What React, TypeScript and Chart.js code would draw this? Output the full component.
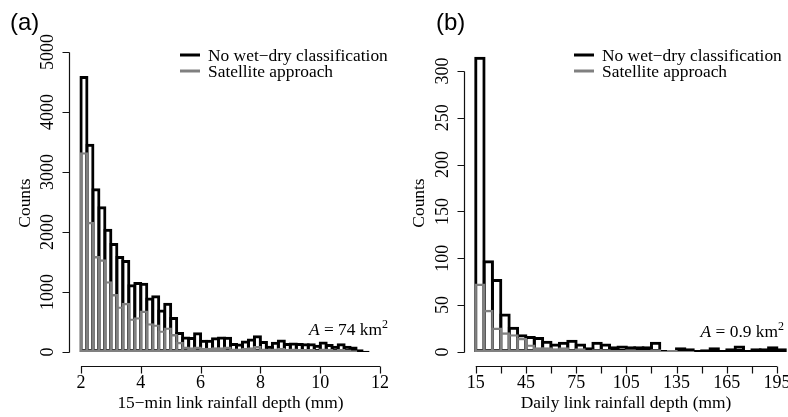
import React, { useEffect, useRef } from "react";
import { Chart, registerables } from "chart.js";
Chart.register(...registerables);

// ---------- data ----------
const leftBinCenters = [2.1, 2.3, 2.5, 2.7, 2.9, 3.1, 3.3, 3.5, 3.7, 3.9, 4.1, 4.3, 4.5, 4.7, 4.9, 5.1, 5.3, 5.5, 5.7, 5.9, 6.1, 6.3, 6.5, 6.7, 6.9, 7.1, 7.3, 7.5, 7.7, 7.9, 8.1, 8.3, 8.5, 8.7, 8.9, 9.1, 9.3, 9.5, 9.7, 9.9, 10.1, 10.3, 10.5, 10.7, 10.9, 11.1, 11.3, 11.5];
const leftNoWetDry = [4600, 3470, 2730, 2430, 2055, 1815, 1600, 1535, 1130, 1165, 1155, 910, 945, 710, 820, 585, 335, 258, 250, 330, 205, 205, 245, 258, 255, 150, 140, 190, 225, 278, 185, 105, 170, 208, 150, 160, 150, 145, 145, 120, 175, 135, 105, 145, 105, 90, 45, 20];
const leftSatellite = [3330, 2170, 1600, 1545, 1180, 967, 760, 820, 560, 580, 690, 480, 460, 360, 410, 300, 170, 90, 80, 90, 70, 70, 80, 80, 90, 60, 60, 70, 80, 100, 60, 50, 60, 70, 50, 60, 50, 50, 50, 40, 60, 50, 40, 50, 40, 30];
const leftXTicks = [2, 4, 6, 8, 10, 12];
const leftXLabels = [2, 4, 6, 8, 10, 12];
const leftYTicks = [0, 1000, 2000, 3000, 4000, 5000];

const rightBinCenters = [17.5, 22.5, 27.5, 32.5, 37.5, 42.5, 47.5, 52.5, 57.5, 62.5, 67.5, 72.5, 77.5, 82.5, 87.5, 92.5, 97.5, 102.5, 107.5, 112.5, 117.5, 122.5, 127.5, 132.5, 137.5, 142.5, 147.5, 152.5, 157.5, 162.5, 167.5, 172.5, 177.5, 182.5, 187.5, 192.5, 197.5];
const rightNoWetDry = [315, 98, 78, 41, 27, 19, 17, 16, 12, 9, 11, 13, 9, 5, 11, 9, 6, 7, 6, 6, 6, 11, 2, 2, 5, 4, 2, 3, 5, 2, 4, 7, 2, 4, 4, 6, 4];
const rightSatellite = [73, 45, 26, 21, 19, 15, 8, 5, 5, 4, 5, 3, 4, 2, 3, 3, 2, 2, 3, 2, 2, 3, 1, 2, 1, 1];
const rightXTicks = [15, 30, 45, 60, 75, 90, 105, 120, 135, 150, 165, 180, 195];
const rightXLabels = [15, 45, 75, 105, 135, 165, 195];
const rightYTicks = [0, 50, 100, 150, 200, 250, 300];

const legendLabels = ["No wet\u2212dry classification", "Satellite approach"];

// ---------- styling ----------
const SERIF = '"Liberation Serif", "Times New Roman", Times, serif';
const SANS = '"Liberation Sans", Arial, Helvetica, sans-serif';
const BLACK = "#000000";
const GREY = "#808080";
const W = 394;
const H = 417;

type PanelCfg = {
  tag: string;
  tagX: number;
  centers: number[];
  all: number[];
  sat: number[];
  binWidth: number;
  xMin: number;
  xMax: number;
  yMin: number;
  yMax: number;
  pad: { left: number; right: number; top: number; bottom: number };
  xTicks: number[];
  xLabels: number[];
  yTicks: number[];
  xTitle: string;
  areaValue: string;
  areaRight: number;
  areaBaseline: number;
};

const panels: PanelCfg[] = [
  {
    tag: "(a)",
    tagX: 10,
    centers: leftBinCenters,
    all: leftNoWetDry,
    sat: leftSatellite,
    binWidth: 0.2,
    xMin: 1.6,
    xMax: 12.4,
    yMin: -233,
    yMax: 5200,
    pad: { left: 69, right: 2, top: 40, bottom: 51 },
    xTicks: leftXTicks,
    xLabels: leftXLabels,
    yTicks: leftYTicks,
    xTitle: "15\u2212min link rainfall depth (mm)",
    areaValue: "74",
    areaRight: 388,
    areaBaseline: 335,
  },
  {
    tag: "(b)",
    tagX: 42,
    centers: rightBinCenters,
    all: rightNoWetDry,
    sat: rightSatellite,
    binWidth: 5,
    xMin: 8,
    xMax: 201.6,
    yMin: -15,
    yMax: 333,
    pad: { left: 70, right: 0, top: 40, bottom: 51 },
    xTicks: rightXTicks,
    xLabels: rightXLabels,
    yTicks: rightYTicks,
    xTitle: "Daily link rainfall depth (mm)",
    areaValue: "0.9",
    areaRight: 390,
    areaBaseline: 337,
  },
];

function overlayPlugin(p: PanelCfg) {
  return {
    id: "rOverlay",
    afterDraw(chart: any) {
      const ctx: CanvasRenderingContext2D = chart.ctx;
      const xs = chart.scales.x;
      const ys = chart.scales.y;
      const area = chart.chartArea;
      ctx.save();
      ctx.strokeStyle = "#111111";
      ctx.fillStyle = BLACK;
      ctx.lineWidth = 1.2;

      // y axis
      const ax = Math.round(area.left) + 0.5;
      const yA = Math.round(ys.getPixelForValue(p.yTicks[0])) + 0.5;
      const yB = Math.round(ys.getPixelForValue(p.yTicks[p.yTicks.length - 1])) + 0.5;
      ctx.beginPath();
      ctx.moveTo(ax, yA);
      ctx.lineTo(ax, yB);
      p.yTicks.forEach((v) => {
        const y = Math.round(ys.getPixelForValue(v)) + 0.5;
        ctx.moveTo(ax - 7, y);
        ctx.lineTo(ax, y);
      });
      ctx.stroke();
      ctx.font = `18px ${SERIF}`;
      ctx.textAlign = "center";
      ctx.textBaseline = "alphabetic";
      p.yTicks.forEach((v) => {
        const y = ys.getPixelForValue(v);
        ctx.save();
        ctx.translate(area.left - 16, y);
        ctx.rotate(-Math.PI / 2);
        ctx.fillText(String(v), 0, 0);
        ctx.restore();
      });

      // x axis
      const ay = Math.round(area.bottom) + 0.5;
      const xA = xs.getPixelForValue(p.xTicks[0]);
      const xB = xs.getPixelForValue(p.xTicks[p.xTicks.length - 1]);
      ctx.beginPath();
      ctx.moveTo(xA, ay);
      ctx.lineTo(xB, ay);
      p.xTicks.forEach((v) => {
        const x = Math.round(xs.getPixelForValue(v)) + 0.5;
        ctx.moveTo(x, ay);
        ctx.lineTo(x, ay + 7);
      });
      ctx.stroke();
      p.xLabels.forEach((v) => {
        ctx.fillText(String(v), xs.getPixelForValue(v), ay + 21);
      });

      // axis titles
      ctx.font = `17.4px ${SERIF}`;
      ctx.fillText(p.xTitle, (area.left + area.right) / 2, 408);
      ctx.save();
      ctx.translate(30, (area.top + area.bottom) / 2);
      ctx.rotate(-Math.PI / 2);
      ctx.fillText("Counts", 0, 0);
      ctx.restore();

      // legend
      const colors = [BLACK, GREY];
      ctx.textAlign = "left";
      legendLabels.forEach((lab, i) => {
        const ly = 55 + i * 16;
        ctx.strokeStyle = colors[i];
        ctx.lineWidth = 3;
        ctx.beginPath();
        ctx.moveTo(180, ly);
        ctx.lineTo(200, ly);
        ctx.stroke();
        ctx.fillStyle = BLACK;
        ctx.fillText(lab, 208, ly + 6);
      });

      // area annotation: A = value km^2
      const fItal = `italic 17.4px ${SERIF}`;
      const fNorm = `17.4px ${SERIF}`;
      const fSup = `12px ${SERIF}`;
      const rest = " = " + p.areaValue + " km";
      ctx.font = fItal;
      const wA = ctx.measureText("A").width;
      ctx.font = fNorm;
      const wR = ctx.measureText(rest).width;
      ctx.font = fSup;
      const wS = ctx.measureText("2").width;
      let x0 = p.areaRight - (wA + wR + wS);
      ctx.font = fItal;
      ctx.fillText("A", x0, p.areaBaseline);
      x0 += wA;
      ctx.font = fNorm;
      ctx.fillText(rest, x0, p.areaBaseline);
      x0 += wR;
      ctx.font = fSup;
      ctx.fillText("2", x0, p.areaBaseline - 7);

      // panel tag
      ctx.font = `24px ${SANS}`;
      ctx.fillText(p.tag, p.tagX, 30);
      ctx.restore();
    },
  };
}

function buildConfig(p: PanelCfg): any {
  const areaW = W - p.pad.left - p.pad.right;
  const binPx = (p.binWidth * areaW) / (p.xMax - p.xMin);
  const bwAll = 3;
  const bwSat = 2.4;
  return {
    type: "bar",
    data: {
      datasets: [
        {
          label: legendLabels[0],
          data: p.all.map((v, i) => ({ x: p.centers[i], y: v })),
          backgroundColor: "rgba(0,0,0,0)",
          borderColor: BLACK,
          borderWidth: bwAll,
          borderSkipped: false,
          inflateAmount: 0,
          grouped: false,
          categoryPercentage: 1,
          barPercentage: (binPx + bwAll) / binPx,
          order: 2,
        },
        {
          label: legendLabels[1],
          data: p.sat.map((v, i) => ({ x: p.centers[i], y: v })),
          backgroundColor: "rgba(0,0,0,0)",
          borderColor: GREY,
          borderWidth: bwSat,
          borderSkipped: false,
          inflateAmount: 0,
          grouped: false,
          categoryPercentage: 1,
          barPercentage: (binPx + bwSat) / binPx,
          order: 1,
        },
      ],
    },
    options: {
      responsive: false,
      animation: false,
      devicePixelRatio: 1,
      layout: { padding: p.pad },
      scales: {
        x: {
          type: "linear",
          min: p.xMin,
          max: p.xMax,
          offset: false,
          display: false,
          grid: { display: false },
        },
        y: {
          type: "linear",
          min: p.yMin,
          max: p.yMax,
          display: false,
          grid: { display: false },
        },
      },
      plugins: {
        legend: { display: false },
        title: { display: false },
        tooltip: { enabled: false },
      },
      events: [],
    },
    plugins: [overlayPlugin(p)],
  };
}

function PanelChart({ cfg, left }: { cfg: PanelCfg; left: number }) {
  const ref = useRef<HTMLCanvasElement | null>(null);
  useEffect(() => {
    if (!ref.current) return;
    const chart = new Chart(ref.current, buildConfig(cfg));
    return () => chart.destroy();
  }, [cfg]);
  return (
    <canvas
      ref={ref}
      width={W}
      height={H}
      style={{ position: "absolute", left, top: 0, width: W, height: H }}
    />
  );
}

export default function App() {
  return (
    <div
      style={{
        position: "absolute",
        left: 0,
        top: 0,
        width: 788,
        height: 417,
        background: "#ffffff",
        overflow: "hidden",
      }}
    >
      <PanelChart cfg={panels[0]} left={0} />
      <PanelChart cfg={panels[1]} left={394} />
    </div>
  );
}
